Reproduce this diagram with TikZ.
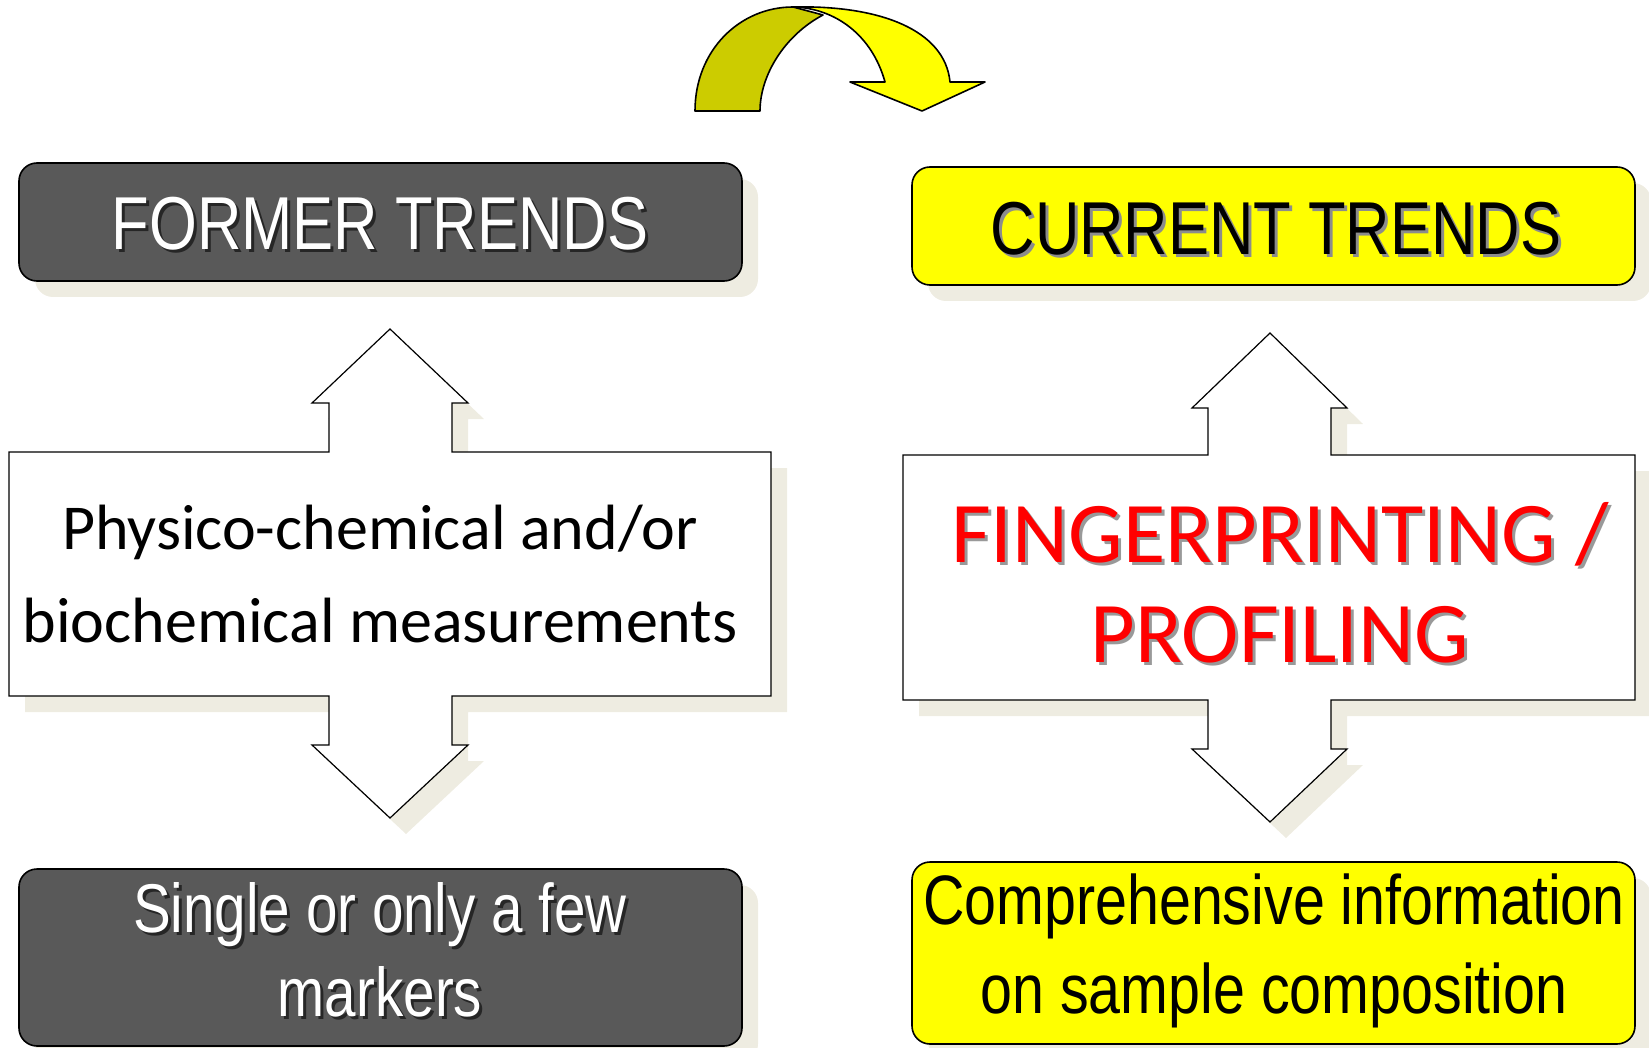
\documentclass[tikz,border=0pt]{standalone}
\usepackage{fontspec}
\setmainfont{Carlito}
\newfontfamily\narrowsans[FakeStretch=0.82]{Liberation Sans}
\usetikzlibrary{shadows}

\definecolor{boxgray}{RGB}{89,89,89}
\definecolor{trendyellow}{RGB}{255,255,0}
\definecolor{arcolive}{RGB}{204,204,0}
\definecolor{shadowbeige}{RGB}{238,236,225}
\definecolor{titlered}{RGB}{255,0,0}

\tikzset{
	outline/.style={draw=black, line width=1.6, line join=round},
	beige shadow/.style={drop shadow={shadow xshift=16pt, shadow yshift=-16pt, fill=shadowbeige, opacity=1}},
	trendbox/.style={outline, rounded corners=18, beige shadow},
	arrowbox/.style={draw=black, line width=1.2, fill=white, beige shadow},
	narrowtxt/.style 2 args={font=\narrowsans\fontsize{#1}{#2}\selectfont, inner sep=0pt, align=center},
	bodytxt/.style 2 args={font=\fontsize{#1}{#2}\selectfont, inner sep=0pt, align=center},
}

\begin{document}
\begin{tikzpicture}[x=1pt,y=1pt,yscale=-1]
		\useasboundingbox (0,0) rectangle (1649,1048);
		% curved arrow from the left column to the right one
		\draw [outline, fill=arcolive] (695,111) .. controls (695,50) and (740,7) .. (793,7) -- (823,15) .. controls (785,35) and (760,75) .. (760,111) -- cycle ;
		\draw [outline, fill=trendyellow] (793,7) .. controls (880,5) and (945,30) .. (950,82) -- (985,82) -- (922,111) -- (850,82) -- (885,82) .. controls (872,35) and (835,8) .. (793,7) -- cycle ;
		% title boxes
		\draw [trendbox, fill=boxgray] (19,163) rectangle (742,281) ;
		\draw [trendbox, fill=trendyellow] (912,167) rectangle (1635,285) ;
		% double arrows carrying the methods
		\draw [arrowbox] (9,452) -- (329,452) -- (329,403) -- (312,403) -- (390,329) -- (468,403) -- (452,403) -- (452,452) -- (771,452) -- (771,696) -- (452,696) -- (452,745) -- (468,745) -- (390,818) -- (312,745) -- (329,745) -- (329,696) -- (9,696) -- cycle ;
		\draw [arrowbox] (903,455) -- (1208,455) -- (1208,408) -- (1192,408) -- (1270,333) -- (1347,408) -- (1331,408) -- (1331,455) -- (1635,455) -- (1635,700) -- (1331,700) -- (1331,749) -- (1347,749) -- (1270,822) -- (1192,749) -- (1208,749) -- (1208,700) -- (903,700) -- cycle ;
		% result boxes
		\draw [trendbox, fill=boxgray] (19,869) rectangle (742,1046) ;
		\draw [trendbox, fill=trendyellow] (912,862) rectangle (1635,1044) ;
		% labels (shadow copy first)
		\node [narrowtxt={75}{90}, text=black!85] (formerSh) at (383,227) {FORMER TRENDS};
		\node [narrowtxt={75}{90}, text=white] (former) at (380,224) {FORMER TRENDS};
		\node [narrowtxt={75}{90}, text=black!45] (currentSh) at (1279,232) {CURRENT TRENDS};
		\node [narrowtxt={75}{90}] (current) at (1276,229) {CURRENT TRENDS};
		\node [bodytxt={64}{93}] (methods) at (380,574) {Physico-chemical and/or\\biochemical measurements};
		\node [bodytxt={86.5}{100}, text=black!40] (fingerSh) at (1283,586) {FINGERPRINTING /\\PROFILING};
		\node [bodytxt={86.5}{100}, text=titlered] (finger) at (1280,583) {FINGERPRINTING /\\PROFILING};
		\node [narrowtxt={69}{84}, text=black!85] (singleSh) at (383,953) {Single or only a few\\markers};
		\node [narrowtxt={69}{84}, text=white] (single) at (380,950) {Single or only a few\\markers};
		\node [narrowtxt={70}{89}] (compreh) at (1274,951) {Comprehensive information\\on sample composition};
\end{tikzpicture}
\end{document}
